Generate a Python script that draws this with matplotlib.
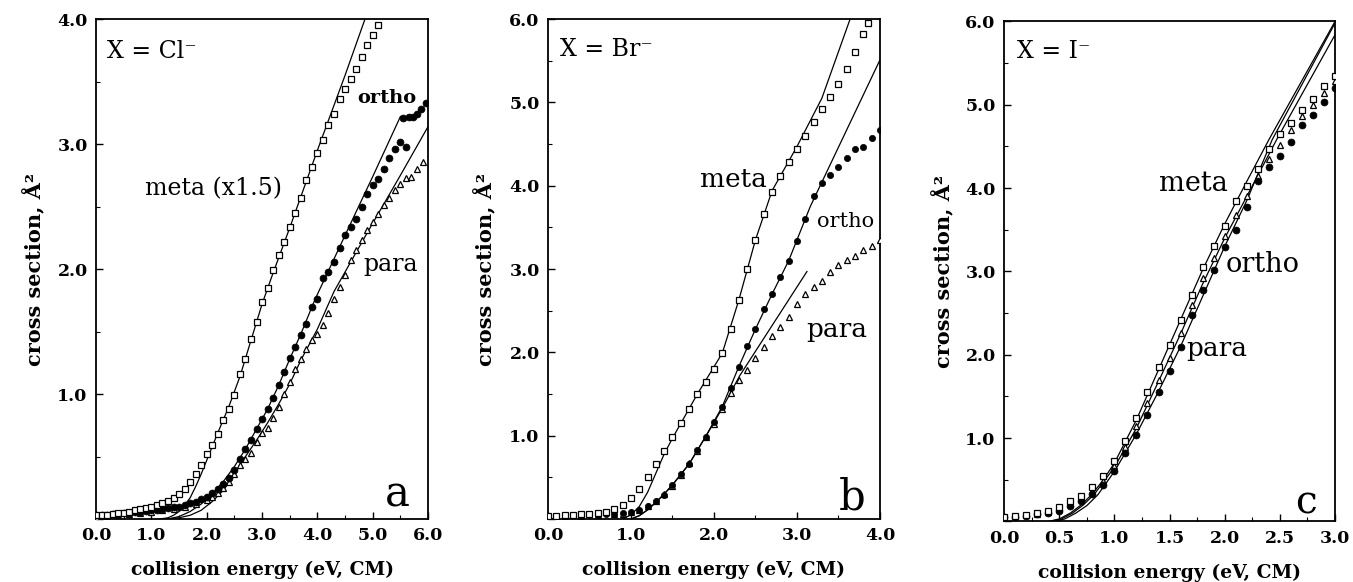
import matplotlib
matplotlib.use("Agg")
import matplotlib.pyplot as plt
from matplotlib.ticker import MultipleLocator, FormatStrFormatter, FuncFormatter
from matplotlib.font_manager import FontProperties

plt.rcParams['font.family'] = ['DejaVu Serif']

# ---------------- Panel a : X = Cl- ----------------
a_meta_E = [0.0, 0.1, 0.2, 0.3, 0.4, 0.5, 0.6, 0.7, 0.8, 0.9, 1.0, 1.1, 1.2, 1.3, 1.4, 1.5, 1.6, 1.7, 1.8, 1.9,
            2.0, 2.1, 2.2, 2.3, 2.4, 2.5, 2.6, 2.7, 2.8, 2.9, 3.0, 3.1, 3.2, 3.3, 3.4, 3.5, 3.6, 3.7, 3.8, 3.9,
            4.0, 4.1, 4.2, 4.3, 4.4, 4.5, 4.6, 4.7, 4.8, 4.9, 5.0, 5.1]
a_meta_S = [0.03, 0.03, 0.035, 0.04, 0.045, 0.05, 0.06, 0.07, 0.08, 0.09, 0.10, 0.11, 0.13, 0.145, 0.17, 0.20, 0.24, 0.30, 0.36, 0.43,
            0.52, 0.59, 0.68, 0.79, 0.88, 0.99, 1.16, 1.28, 1.44, 1.58, 1.74, 1.85, 1.99, 2.11, 2.22, 2.34, 2.45, 2.57, 2.71, 2.82,
            2.93, 3.03, 3.15, 3.24, 3.36, 3.44, 3.52, 3.60, 3.70, 3.79, 3.87, 3.95]
a_meta_fitE = [1.15, 1.3, 1.4, 1.5, 1.6, 1.7, 1.8, 1.9, 2.0, 2.2, 2.4, 2.6, 2.8, 3.0, 3.2, 3.5, 4.0, 4.5, 4.86]
a_meta_fitS = [0.0, 0.01, 0.03, 0.06, 0.11, 0.17, 0.26, 0.36, 0.47, 0.69, 0.90, 1.14, 1.43, 1.72, 1.97, 2.33, 2.95, 3.55, 4.0]

a_ortho_E = [0.0, 0.1, 0.2, 0.3, 0.4, 0.5, 0.6, 0.7, 0.8, 0.9, 1.0, 1.1, 1.2, 1.3, 1.4, 1.5, 1.6, 1.7, 1.8, 1.9,
             2.0, 2.1, 2.2, 2.3, 2.4, 2.5, 2.6, 2.7, 2.8, 2.9, 3.0, 3.1, 3.2, 3.3, 3.4, 3.5, 3.6, 3.7, 3.8, 3.9,
             4.0, 4.1, 4.2, 4.3, 4.4, 4.5, 4.6, 4.7, 4.8, 4.9, 5.0, 5.1, 5.2, 5.3, 5.4, 5.5, 5.55, 5.6, 5.65,
             5.72, 5.8, 5.88, 5.96]
a_ortho_S = [0.03, 0.03, 0.035, 0.04, 0.04, 0.045, 0.05, 0.055, 0.06, 0.065, 0.07, 0.075, 0.08, 0.09, 0.095, 0.10, 0.11, 0.13, 0.14, 0.16,
             0.18, 0.21, 0.24, 0.28, 0.33, 0.39, 0.48, 0.56, 0.63, 0.72, 0.80, 0.88, 0.97, 1.07, 1.18, 1.29, 1.38, 1.47, 1.56, 1.70,
             1.76, 1.93, 1.98, 2.06, 2.17, 2.27, 2.34, 2.40, 2.50, 2.60, 2.67, 2.72, 2.80, 2.89, 2.96, 3.02, 3.21, 2.98, 3.22,
             3.22, 3.24, 3.28, 3.33]
a_ortho_fitE = [1.3, 1.5, 1.7, 1.9, 2.1, 2.3, 2.5, 2.7, 2.9, 3.1, 3.3, 3.5, 3.7, 3.96, 4.5, 5.0, 5.5]
a_ortho_fitS = [0.0, 0.02, 0.06, 0.12, 0.20, 0.30, 0.42, 0.56, 0.72, 0.88, 1.07, 1.28, 1.48, 1.76, 2.27, 2.74, 3.22]

a_para_E = [0.0, 0.2, 0.4, 0.6, 0.8, 1.0, 1.2, 1.4, 1.6, 1.8, 2.0, 2.1, 2.2, 2.3, 2.4, 2.5, 2.6, 2.7, 2.8, 2.9,
            3.0, 3.1, 3.2, 3.3, 3.4, 3.5, 3.6, 3.7, 3.8, 3.9, 4.0, 4.1, 4.2, 4.3, 4.4, 4.5, 4.6, 4.7, 4.8, 4.9,
            5.0, 5.1, 5.2, 5.3, 5.4, 5.5, 5.6, 5.7, 5.8, 5.9]
a_para_S = [0.02, 0.025, 0.03, 0.04, 0.05, 0.06, 0.07, 0.08, 0.10, 0.12, 0.15, 0.18, 0.21, 0.25, 0.30, 0.36, 0.43, 0.48, 0.53, 0.62,
            0.69, 0.73, 0.81, 0.90, 1.00, 1.10, 1.20, 1.28, 1.36, 1.43, 1.48, 1.55, 1.65, 1.76, 1.86, 1.95, 2.07, 2.15, 2.23, 2.31,
            2.38, 2.44, 2.51, 2.57, 2.63, 2.68, 2.73, 2.74, 2.80, 2.86]
a_para_fitE = [1.25, 1.5, 1.7, 1.9, 2.1, 2.3, 2.5, 2.7, 2.9, 3.1, 3.3, 3.5, 3.7, 4.0, 4.3, 4.9, 5.5, 6.0]
a_para_fitS = [0.0, 0.01, 0.03, 0.07, 0.14, 0.23, 0.36, 0.50, 0.63, 0.77, 0.92, 1.08, 1.27, 1.52, 1.82, 2.29, 2.75, 3.14]

# ---------------- Panel b : X = Br- ----------------
b_meta_E = [0.0, 0.1, 0.2, 0.3, 0.4, 0.5, 0.6, 0.7, 0.8, 0.9, 1.0, 1.1, 1.2, 1.3, 1.4, 1.5, 1.6, 1.7, 1.8, 1.9,
            2.0, 2.1, 2.2, 2.3, 2.4, 2.5, 2.6, 2.7, 2.8, 2.9, 3.0, 3.1, 3.2, 3.3, 3.4, 3.5, 3.6, 3.7, 3.8, 3.86]
b_meta_S = [0.04, 0.04, 0.045, 0.05, 0.055, 0.065, 0.075, 0.09, 0.12, 0.17, 0.25, 0.36, 0.50, 0.66, 0.82, 0.98, 1.15, 1.32, 1.50, 1.65,
            1.80, 1.99, 2.28, 2.63, 3.00, 3.35, 3.66, 3.92, 4.12, 4.28, 4.44, 4.60, 4.76, 4.92, 5.07, 5.22, 5.40, 5.60, 5.82, 5.95]
b_meta_fitE = [0.9, 1.0, 1.1, 1.2, 1.3, 1.4, 1.5, 1.8, 2.1, 2.3, 2.5, 2.7, 3.0, 3.3, 3.64]
b_meta_fitS = [0.0, 0.05, 0.15, 0.32, 0.55, 0.78, 0.97, 1.50, 1.99, 2.63, 3.35, 3.94, 4.47, 5.05, 6.0]

b_ortho_E = [0.0, 0.2, 0.4, 0.6, 0.7, 0.8, 0.9, 1.0, 1.1, 1.2, 1.3, 1.4, 1.5, 1.6, 1.7, 1.8, 1.9, 2.0, 2.1, 2.2,
             2.3, 2.4, 2.5, 2.6, 2.7, 2.8, 2.9, 3.0, 3.1, 3.2, 3.3, 3.4, 3.5, 3.6, 3.7, 3.8, 3.9, 4.0]
b_ortho_S = [0.03, 0.035, 0.04, 0.05, 0.055, 0.06, 0.07, 0.08, 0.11, 0.16, 0.22, 0.29, 0.41, 0.54, 0.66, 0.83, 0.99, 1.16, 1.35, 1.57,
             1.83, 2.08, 2.28, 2.52, 2.70, 2.90, 3.10, 3.34, 3.60, 3.88, 4.03, 4.13, 4.23, 4.33, 4.44, 4.47, 4.57, 4.67]
b_ortho_fitE = [1.0, 1.1, 1.2, 1.3, 1.4, 1.5, 1.7, 1.9, 2.1, 2.3, 2.5, 2.7, 2.9, 3.16, 4.0]
b_ortho_fitS = [0.0, 0.04, 0.11, 0.20, 0.30, 0.41, 0.66, 0.99, 1.35, 1.83, 2.28, 2.70, 3.10, 3.75, 5.51]

b_para_E = [0.0, 0.2, 0.4, 0.6, 0.8, 0.9, 1.0, 1.1, 1.2, 1.3, 1.4, 1.5, 1.6, 1.7, 1.8, 1.9, 2.0, 2.1, 2.2, 2.3,
            2.4, 2.5, 2.6, 2.7, 2.8, 2.9, 3.0, 3.1, 3.2, 3.3, 3.4, 3.5, 3.6, 3.7, 3.8, 3.9, 4.0]
b_para_S = [0.03, 0.035, 0.04, 0.045, 0.055, 0.065, 0.08, 0.11, 0.16, 0.22, 0.30, 0.40, 0.53, 0.67, 0.82, 0.98, 1.14, 1.32, 1.51, 1.67,
            1.79, 1.93, 2.06, 2.20, 2.31, 2.42, 2.58, 2.70, 2.78, 2.86, 2.96, 3.05, 3.11, 3.16, 3.23, 3.28, 3.35]
b_para_fitE = [1.0, 1.1, 1.2, 1.3, 1.4, 1.5, 1.7, 1.9, 2.1, 2.31, 3.12]
b_para_fitS = [0.0, 0.04, 0.11, 0.20, 0.30, 0.41, 0.66, 0.99, 1.33, 1.72, 2.97]

# ---------------- Panel c : X = I- ----------------
c_E = [0.0, 0.1, 0.2, 0.3, 0.4, 0.5, 0.6, 0.7, 0.8, 0.9, 1.0, 1.1, 1.2, 1.3, 1.4, 1.5, 1.6, 1.7, 1.8, 1.9,
       2.0, 2.1, 2.2, 2.3, 2.4, 2.5, 2.6, 2.7, 2.8, 2.9, 3.0]
c_meta_S = [0.05, 0.06, 0.08, 0.10, 0.12, 0.17, 0.24, 0.31, 0.41, 0.54, 0.72, 0.96, 1.24, 1.55, 1.85, 2.12, 2.42, 2.72, 3.05, 3.30,
            3.55, 3.84, 4.03, 4.23, 4.47, 4.65, 4.78, 4.94, 5.07, 5.22, 5.35]
c_ortho_S = [0.05, 0.055, 0.07, 0.085, 0.10, 0.13, 0.18, 0.25, 0.33, 0.44, 0.60, 0.82, 1.04, 1.28, 1.55, 1.80, 2.09, 2.48, 2.78, 3.02,
             3.29, 3.50, 3.77, 4.08, 4.25, 4.39, 4.55, 4.76, 4.88, 5.03, 5.20]
c_para_S = [0.05, 0.06, 0.075, 0.09, 0.11, 0.15, 0.21, 0.28, 0.37, 0.49, 0.66, 0.89, 1.14, 1.42, 1.70, 1.96, 2.26, 2.60, 2.92, 3.16,
            3.42, 3.68, 3.90, 4.15, 4.35, 4.52, 4.70, 4.86, 5.00, 5.14, 5.28]
c_meta_fitE = [0.40, 0.5, 0.6, 0.7, 0.8, 0.9, 1.0, 1.2, 1.4, 1.6, 1.8, 2.0, 2.2, 2.40, 3.0]
c_meta_fitS = [0.0, 0.03, 0.10, 0.20, 0.33, 0.50, 0.70, 1.22, 1.82, 2.42, 3.02, 3.57, 4.08, 4.58, 6.0]
c_ortho_fitE = [0.45, 0.55, 0.65, 0.75, 0.85, 1.0, 1.2, 1.4, 1.6, 1.8, 2.0, 2.2, 2.43, 3.0]
c_ortho_fitS = [0.0, 0.03, 0.10, 0.19, 0.32, 0.60, 1.05, 1.56, 2.10, 2.70, 3.30, 3.85, 4.58, 5.98]
c_para_fitE = [0.42, 0.52, 0.62, 0.72, 0.82, 1.0, 1.2, 1.4, 1.6, 1.8, 2.0, 2.2, 2.47, 3.0]
c_para_fitS = [0.0, 0.03, 0.10, 0.20, 0.33, 0.65, 1.12, 1.68, 2.25, 2.85, 3.40, 3.90, 4.58, 5.84]

# ---------------- figure ----------------
fig = plt.figure(figsize=(13.53, 5.82), dpi=100)
axa = fig.add_axes([0.0710, 0.1082, 0.2454, 0.8591])
axb = fig.add_axes([0.4050, 0.1082, 0.2454, 0.8591])
axc = fig.add_axes([0.7421, 0.1040, 0.2446, 0.8591])

sq = dict(marker='s', ls='none', mfc='white', mec='black', mew=0.9, zorder=3)
ci = dict(marker='o', ls='none', mfc='black', mec='black', mew=0.5, zorder=3)
tr = dict(marker='^', ls='none', mfc='white', mec='black', mew=0.9, zorder=3)
fit = dict(color='black', lw=0.9, zorder=2)

tickfont = FontProperties(family='DejaVu Serif', weight='bold', size=12.5)


def style(ax, xmax, ymax, xmaj, xmin, ylab_x):
    ax.set_xlim(0, xmax)
    ax.set_ylim(0, ymax)
    ax.xaxis.set_major_locator(MultipleLocator(xmaj))
    ax.xaxis.set_minor_locator(MultipleLocator(xmin))
    ax.yaxis.set_major_locator(MultipleLocator(1.0))
    ax.yaxis.set_minor_locator(MultipleLocator(0.5))
    ax.xaxis.set_major_formatter(FormatStrFormatter('%.1f'))
    ax.yaxis.set_major_formatter(FuncFormatter(lambda v, p: '' if abs(v) < 1e-9 else '%.1f' % v))
    ax.tick_params(which='major', direction='in', length=5, width=1.0, pad=6)
    ax.tick_params(which='minor', direction='in', length=3, width=0.8)
    for lab in ax.get_xticklabels() + ax.get_yticklabels():
        lab.set_fontproperties(tickfont)
    for s in ax.spines.values():
        s.set_linewidth(1.3)
    ax.set_xlabel('collision energy (eV, CM)', fontsize=13.5, fontweight='bold', va='center')
    ax.set_ylabel('cross section, Å²', fontsize=15, fontweight='bold')
    ax.xaxis.set_label_coords(0.5, -0.102)
    ax.yaxis.set_label_coords(ylab_x, 0.5)


# panel a
axa.plot(a_meta_fitE, a_meta_fitS, **fit)
axa.plot(a_ortho_fitE, a_ortho_fitS, **fit)
axa.plot(a_para_fitE, a_para_fitS, **fit)
axa.plot(a_para_E, a_para_S, ms=5, **tr)
axa.plot(a_ortho_E, a_ortho_S, ms=5, **ci)
axa.plot(a_meta_E, a_meta_S, ms=5, **sq)
style(axa, 6.0, 4.0, 1.0, 0.5, -0.152)
axa.text(0.2, 3.74, 'X = Cl⁻', fontsize=17, ha='left', va='center')
axa.text(2.13, 2.64, 'meta (x1.5)', fontsize=17, ha='center', va='center')
axa.text(5.26, 3.37, 'ortho', fontsize=14, fontweight='bold', ha='center', va='center')
axa.text(5.32, 2.04, 'para', fontsize=17, ha='center', va='center')
axa.text(5.44, 0.10, 'a', fontsize=30, ha='center', va='baseline')

# panel b
axb.plot(b_meta_fitE, b_meta_fitS, **fit)
axb.plot(b_ortho_fitE, b_ortho_fitS, **fit)
axb.plot(b_para_fitE, b_para_fitS, **fit)
axb.plot(b_para_E, b_para_S, ms=4.5, **tr)
axb.plot(b_ortho_E, b_ortho_S, ms=4.5, **ci)
axb.plot(b_meta_E, b_meta_S, ms=4.5, **sq)
style(axb, 4.0, 6.0, 1.0, 0.5, -0.154)
axb.text(0.145, 5.63, 'X = Br⁻', fontsize=17, ha='left', va='center')
axb.text(2.24, 4.07, 'meta', fontsize=19, ha='center', va='center')
axb.text(3.58, 3.57, 'ortho', fontsize=15, ha='center', va='center')
axb.text(3.48, 2.27, 'para', fontsize=19, ha='center', va='center')
axb.text(3.67, 0.11, 'b', fontsize=30, ha='center', va='baseline')

# panel c
axc.plot(c_meta_fitE, c_meta_fitS, **fit)
axc.plot(c_ortho_fitE, c_ortho_fitS, **fit)
axc.plot(c_para_fitE, c_para_fitS, **fit)
axc.plot(c_E, c_para_S, ms=5, **tr)
axc.plot(c_E, c_ortho_S, ms=5, **ci)
axc.plot(c_E, c_meta_S, ms=5, **sq)
style(axc, 3.0, 6.0, 0.5, 0.25, -0.151)
axc.text(0.12, 5.64, 'X = I⁻', fontsize=17, ha='left', va='center')
axc.text(1.72, 4.06, 'meta', fontsize=19.5, ha='center', va='center')
axc.text(2.34, 3.08, 'ortho', fontsize=19.5, ha='center', va='center')
axc.text(1.93, 2.08, 'para', fontsize=19, ha='center', va='center')
axc.text(2.74, 0.10, 'c', fontsize=28, ha='center', va='baseline')

fig.savefig('out.png', dpi=100)
